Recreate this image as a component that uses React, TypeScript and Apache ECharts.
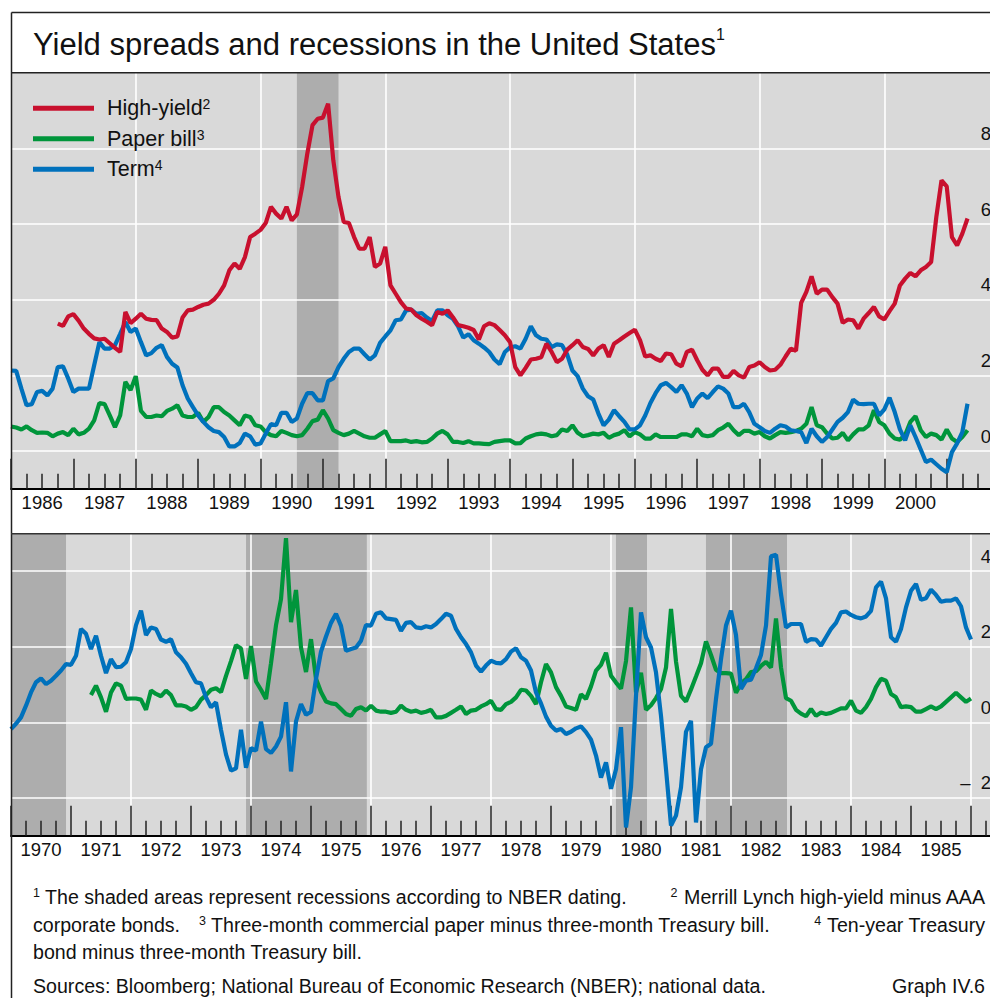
import React, { useEffect, useRef } from "react";
import * as echarts from "echarts";

// ---------- DATA ----------
// Upper panel: monthly, from January 1986
const topStart = 1986;
const topYears = ["1986","1987","1988","1989","1990","1991","1992","1993","1994","1995","1996","1997","1998","1999","2000","2001"];
const termTop = [
  2.13,2.12,1.65,1.21,1.24,1.56,1.59,1.47,1.65,2.22,
  2.24,1.92,1.56,1.65,1.65,1.65,2.27,2.88,2.71,2.71,
  2.8,3.1,3.41,3.15,3.24,2.88,2.53,2.59,2.73,2.8,
  2.49,2.31,2.21,1.74,1.39,1.16,0.94,0.77,0.63,0.53,
  0.5,0.37,0.12,0.12,0.21,0.46,0.39,0.17,0.2,0.46,
  0.71,0.68,1.01,1.01,0.77,0.86,1.25,1.53,1.53,1.34,
  1.34,1.85,1.92,2.22,2.44,2.62,2.71,2.71,2.56,2.42,
  2.53,2.86,3.03,3.19,3.46,3.48,3.72,3.74,3.63,3.65,
  3.53,3.44,3.72,3.72,3.59,3.5,3.3,3.0,3.09,2.93,
  2.84,2.74,2.62,2.42,2.3,2.62,2.74,2.77,2.71,2.97,
  3.3,3.06,2.97,2.95,2.75,2.82,2.8,2.55,2.13,1.98,
  1.65,1.45,1.36,0.99,0.68,0.83,1.08,0.92,0.77,0.57,
  0.57,0.68,0.94,1.27,1.53,1.74,1.8,1.69,1.56,1.74,
  1.52,1.16,1.39,1.52,1.4,1.56,1.71,1.65,1.52,1.16,
  1.16,1.25,1.03,0.72,0.63,0.53,0.48,0.59,0.68,0.65,
  0.55,0.53,0.5,0.21,0.59,0.39,0.24,0.37,0.57,0.77,
  0.88,1.03,1.36,1.25,1.24,1.25,1.25,0.94,1.1,1.41,
  1.03,0.57,0.28,0.68,0.37,0.04,-0.29,-0.23,-0.35,-0.47,
  -0.56,-0.03,0.2,0.5,1.25
];
const paperTop = [
  0.65,0.62,0.57,0.65,0.55,0.48,0.49,0.48,0.39,0.46,
  0.5,0.42,0.59,0.44,0.48,0.59,0.81,1.27,1.24,0.94,
  0.63,0.94,1.83,1.61,1.98,1.06,0.9,0.9,0.94,0.92,
  1.06,1.12,1.21,0.94,0.9,0.9,1.01,0.77,0.9,1.16,
  1.16,1.03,0.94,0.81,0.68,0.94,0.9,0.68,0.65,0.5,
  0.42,0.39,0.53,0.48,0.42,0.39,0.42,0.59,0.79,0.83,
  1.08,0.86,0.55,0.48,0.42,0.46,0.53,0.46,0.39,0.35,
  0.35,0.44,0.53,0.26,0.26,0.26,0.28,0.24,0.26,0.23,
  0.24,0.33,0.46,0.53,0.44,0.24,0.24,0.21,0.26,0.2,
  0.2,0.19,0.18,0.24,0.26,0.28,0.28,0.2,0.21,0.33,
  0.39,0.44,0.46,0.44,0.39,0.42,0.57,0.53,0.68,0.48,
  0.39,0.42,0.46,0.44,0.48,0.35,0.42,0.46,0.55,0.39,
  0.5,0.44,0.33,0.33,0.44,0.37,0.37,0.37,0.37,0.44,
  0.44,0.39,0.59,0.42,0.39,0.42,0.55,0.62,0.72,0.55,
  0.42,0.53,0.53,0.46,0.5,0.39,0.33,0.42,0.5,0.48,
  0.5,0.53,0.59,0.72,1.16,0.68,0.63,0.46,0.33,0.35,
  0.48,0.28,0.44,0.57,0.57,0.68,1.08,0.77,0.68,0.46,
  0.33,0.3,0.42,0.77,0.92,0.55,0.37,0.46,0.42,0.3,
  0.57,0.33,0.24,0.37,0.55
];
// High-yield series begins October 1986
const highYieldStart = 1986 + 9 / 12;
const highYield = [
  3.37,3.31,3.56,3.62,3.45,3.24,3.1,2.98,2.95,2.97,2.85,
  2.73,2.62,3.68,3.38,3.5,3.63,3.5,3.47,3.46,3.24,
  3.15,3.0,3.03,3.53,3.72,3.74,3.81,3.87,3.9,4.0,
  4.16,4.38,4.78,4.96,4.82,5.13,5.66,5.75,5.85,6.03,
  6.46,6.28,6.15,6.46,6.1,6.26,6.98,7.87,8.62,8.79,
  8.82,9.19,7.69,6.72,6.06,6.03,5.66,5.35,5.35,5.66,
  4.87,4.96,5.4,4.38,4.16,3.94,3.77,3.74,3.59,3.5,
  3.42,3.33,3.68,3.63,3.72,3.54,3.33,3.3,3.26,3.2,
  2.95,3.3,3.38,3.33,3.2,3.06,2.88,2.22,2.0,2.2,
  2.42,2.44,2.48,2.84,2.62,2.35,2.44,2.68,2.8,2.93,
  2.75,2.7,2.53,2.71,2.8,2.49,2.84,2.93,3.03,3.12,
  3.21,2.93,2.5,2.53,2.44,2.38,2.58,2.56,2.31,2.24,
  2.62,2.68,2.4,2.15,2.0,2.18,2.18,1.96,1.96,2.12,
  2.0,1.94,2.22,2.26,2.35,2.22,2.13,2.15,2.28,2.5,
  2.71,2.65,3.92,4.21,4.62,4.16,4.27,4.27,4.07,3.9,
  3.39,3.48,3.46,3.24,3.5,3.65,3.81,3.56,3.48,3.7,
  3.9,4.38,4.56,4.71,4.62,4.78,4.87,5.0,6.19,7.16,
  7.0,5.66,5.44,5.75,6.15
];
const topRecessions = [[1990.583, 1991.25]];

// Lower panel: monthly, from January 1970
const bottomStart = 1970;
const bottomYears = ["1970","1971","1972","1973","1974","1975","1976","1977","1978","1979","1980","1981","1982","1983","1984","1985","1986"];
const termBottom = [
  -0.18,-0.04,0.13,0.44,0.79,1.06,1.16,1.01,1.1,1.23,
  1.37,1.54,1.52,1.76,2.47,2.34,1.94,2.29,1.76,1.3,
  1.67,1.46,1.47,1.59,1.94,2.57,2.95,2.31,2.51,2.47,
  2.19,2.13,2.2,1.85,1.72,1.55,1.3,1.06,1.03,0.66,
  0.4,0.53,-0.2,-0.85,-1.28,-1.22,-0.2,-1.2,-0.68,-0.75,
  0.02,-0.71,-0.81,-0.64,-0.38,0.53,-1.3,0.02,0.48,0.2,
  0.28,1.15,1.87,2.27,2.63,2.87,2.55,1.89,1.94,1.98,
  2.16,2.57,2.56,2.87,2.91,2.75,2.73,2.71,2.42,2.63,
  2.65,2.51,2.49,2.54,2.51,2.6,2.73,2.87,2.82,2.47,
  2.25,2.07,1.85,1.5,1.34,1.5,1.63,1.57,1.56,1.67,
  1.87,1.96,1.72,1.63,1.37,0.79,0.5,0.15,-0.09,-0.22,
  -0.18,-0.31,-0.25,-0.16,-0.11,-0.26,-0.46,-0.88,-1.46,-1.06,
  -1.76,-1.24,-0.13,-2.78,-1.72,0.7,2.91,2.25,1.98,1.32,
  0.17,-1.24,-2.73,-2.47,-1.72,-0.25,0.04,-2.65,-1.24,-0.66,
  -0.57,0.62,1.67,2.56,2.95,2.31,0.88,1.1,1.13,1.43,
  1.78,2.56,4.39,4.43,3.39,2.51,2.6,2.6,2.6,2.13,
  2.2,2.19,2.03,2.25,2.47,2.63,2.91,2.93,2.84,2.78,
  2.75,2.8,2.95,3.57,3.72,3.28,2.25,2.13,2.47,3.04,
  3.48,3.66,3.24,3.28,3.51,3.37,3.19,3.22,3.22,3.28,
  3.07,2.51,2.19
];
// Paper bill series begins May 1971
const paperBottomStart = 1970 + 16 / 12;
const paperBottom = [
  0.72,0.97,0.66,0.28,0.79,1.03,0.97,0.62,0.63,0.63,
  0.6,0.33,0.84,0.75,0.69,0.84,0.72,0.45,0.45,0.42,
  0.33,0.4,0.6,0.72,0.86,0.9,0.8,1.23,1.62,2.04,
  1.95,1.15,2.02,1.08,0.86,0.62,1.56,2.57,3.26,4.87,
  2.65,3.5,1.98,1.33,2.2,1.15,0.8,0.55,0.5,0.48,
  0.35,0.22,0.17,0.35,0.4,0.31,0.44,0.31,0.28,0.28,
  0.25,0.28,0.44,0.33,0.28,0.31,0.25,0.28,0.33,0.13,
  0.13,0.17,0.25,0.33,0.42,0.22,0.31,0.33,0.42,0.48,
  0.57,0.35,0.33,0.48,0.54,0.66,0.86,0.84,0.7,0.48,
  1.06,1.54,1.32,0.93,0.7,0.42,0.38,0.33,0.74,0.62,
  0.95,1.37,1.52,1.84,1.23,1.05,0.89,1.62,3.04,0.79,
  1.31,0.33,0.45,0.64,0.88,1.45,3.0,1.61,0.7,0.55,
  0.87,1.21,1.56,2.14,1.78,1.39,1.3,1.3,1.29,0.78,
  1.03,1.14,1.33,1.35,1.49,1.6,1.45,2.75,1.45,0.64,
  0.57,0.33,0.23,0.16,0.35,0.17,0.26,0.22,0.25,0.31,
  0.37,0.37,0.57,0.31,0.25,0.4,0.62,0.93,1.15,1.1,
  0.75,0.66,0.4,0.42,0.4,0.28,0.28,0.35,0.42,0.35,
  0.42,0.54,0.66,0.78,0.66,0.54,0.63
];
const bottomRecessions = [[1969.917, 1970.917], [1973.917, 1975.93], [1980.083, 1980.6], [1981.583, 1982.933]];

const seriesNames = ["High-yield", "Paper bill", "Term"];
const seriesSup: Record<string, string> = { "High-yield": "2", "Paper bill": "3", Term: "4" };
const COLORS = { red: "#c8102e", green: "#00953b", blue: "#0071bc" };

// ---------- HELPERS ----------
const toPairs = (start: number, vals: number[]) => vals.map((v, i) => [start + i / 12, v]);

const FONT = "'Liberation Sans', Arial, Helvetica, sans-serif";

const PLOT_BG = "#d9d9d9";
const SHADE = "#adadad";

function shadeItem(params: any, api: any) {
  const cs = params.coordSys;
  const s = api.coord([api.value(0), 0]);
  const e = api.coord([api.value(1), 0]);
  const x0 = Math.max(s[0], cs.x);
  const x1 = Math.min(e[0], cs.x + cs.width);
  return {
    type: "rect",
    shape: { x: x0, y: cs.y, width: Math.max(0, x1 - x0), height: cs.height },
    style: { fill: SHADE },
  };
}

function dataAxis(gridIndex: number, min: number, max: number) {
  return {
    type: "value", gridIndex, min, max, interval: 1, position: "bottom", z: 3,
    axisLine: { show: true, onZero: false, lineStyle: { color: "#000", width: 2 } },
    axisTick: { show: true, inside: true, length: 30, lineStyle: { color: "#222", width: 1.5 } },
    minorTick: { show: true, splitNumber: 4, length: 15, lineStyle: { color: "#222", width: 1.5 } },
    axisLabel: { show: false }, splitLine: { show: false },
  };
}
function splitAxis(gridIndex: number, min: number, max: number) {
  return {
    type: "value", gridIndex, min, max, interval: 2, position: "bottom", z: 2,
    axisLine: { show: false, onZero: false }, axisTick: { show: false }, axisLabel: { show: false },
    splitLine: { show: true, lineStyle: { color: "#ffffff", width: 1.6 } },
  };
}
function labelAxis(gridIndex: number, years: string[]) {
  return {
    type: "category", gridIndex, data: years, boundaryGap: true, position: "bottom",
    axisLine: { show: false, onZero: false }, axisTick: { show: false }, splitLine: { show: false },
    axisLabel: {
      interval: 0, margin: 4, fontSize: 18.5, lineHeight: 20, color: "#111", fontFamily: FONT,
      formatter: (v: string, i: number) => (i === years.length - 1 ? "" : v),
    },
  };
}

const noteRich = {
  n: { fontSize: 19.6, lineHeight: 22, fontFamily: FONT, fill: "#111" },
  s: { fontSize: 12.5, lineHeight: 13, fontFamily: FONT, fill: "#111", verticalAlign: "top" },
};

const footnotes = [
  { x: 33, y: 897, align: "left", text: "{s|1}{n| The shaded areas represent recessions according to NBER dating.}" },
  { x: 985, y: 897, align: "right", text: "{s|2}{n| Merrill Lynch high-yield minus AAA}" },
  { x: 33, y: 925, align: "left", text: "{n|corporate bonds.}" },
  { x: 199, y: 925, align: "left", text: "{s|3}{n| Three-month commercial paper minus three-month Treasury bill.}" },
  { x: 985, y: 925, align: "right", text: "{s|4}{n| Ten-year Treasury}" },
  { x: 33, y: 952, align: "left", text: "{n|bond minus three-month Treasury bill.}" },
  { x: 33, y: 986, align: "left", text: "{n|Sources: Bloomberg; National Bureau of Economic Research (NBER); national data.}" },
  { x: 985, y: 986, align: "right", text: "{n|Graph IV.6}" },
];

export default function App() {
  const ref = useRef<HTMLDivElement>(null);
  useEffect(() => {
    if (!ref.current) return;
    const chart = echarts.init(ref.current, undefined, { renderer: "svg" });
    const lineBase = (name: string, color: string, data: number[][], xi: number, yi: number) => ({
      name, type: "line", xAxisIndex: xi, yAxisIndex: yi, data, showSymbol: false, symbol: "none",
      z: 4, lineStyle: { color, width: 4.2 }, itemStyle: { color }, silent: true,
    });
    const option: any = {
      animation: false,
      backgroundColor: "#ffffff",
      textStyle: { fontFamily: FONT },
      grid: [
        { left: 11, top: 73, width: 998.1, height: 415.8, show: true, backgroundColor: PLOT_BG, borderWidth: 0 },
        { left: 11, top: 533.3, width: 1020, height: 302.4, show: true, backgroundColor: PLOT_BG, borderWidth: 0 },
      ],
      xAxis: [
        dataAxis(0, 1986, 2002), splitAxis(0, 1986, 2002), labelAxis(0, topYears),
        dataAxis(1, 1970, 1987), splitAxis(1, 1970, 1987), labelAxis(1, bottomYears),
      ],
      yAxis: [
        {
          type: "value", gridIndex: 0, min: -1, max: 10, splitNumber: 5, position: "right", z: 2,
          axisLine: { show: false }, axisTick: { show: false },
          splitLine: { show: true, showMinLine: false, showMaxLine: false, lineStyle: { color: "#ffffff", width: 1.6 } },
          axisLabel: {
            inside: true, margin: 18, fontSize: 18.5, color: "#111", fontFamily: FONT, verticalAlign: "bottom", lineHeight: 30,
            formatter: (v: number) => (v >= 0 && v <= 8 && v % 2 === 0 ? String(v) : ""),
          },
        },
        {
          type: "value", gridIndex: 1, min: -3, max: 5, splitNumber: 4, position: "right", z: 2,
          axisLine: { show: false }, axisTick: { show: false },
          splitLine: { show: true, showMinLine: false, showMaxLine: false, lineStyle: { color: "#ffffff", width: 1.6 } },
          axisLabel: {
            inside: true, margin: 40, fontSize: 18.5, color: "#111", fontFamily: FONT, verticalAlign: "bottom", lineHeight: 30,
            formatter: (v: number) => (v >= -2 && v <= 4 && v % 2 === 0 ? (v < 0 ? "\u2013  " + Math.abs(v) : String(v)) : ""),
          },
        },
      ],
      legend: {
        data: seriesNames, orient: "vertical", left: 33, top: 97.3, padding: 0, itemGap: 8.5,
        itemWidth: 61, itemHeight: 5, icon: "rect", selectedMode: false,
        formatter: (name: string) => `{n|${name}}{s|${seriesSup[name]}}`,
        textStyle: {
          color: "#111",
          rich: {
            n: { fontSize: 21.5, lineHeight: 22, fontFamily: FONT, color: "#111", padding: [0, 0, 0, 8] },
            s: { fontSize: 14, lineHeight: 15, fontFamily: FONT, color: "#111", verticalAlign: "top" },
          },
        },
      },
      series: [
        { type: "custom", xAxisIndex: 0, yAxisIndex: 0, data: topRecessions, renderItem: shadeItem, z: 1, silent: true, encode: { x: [0, 1] } },
        lineBase("Paper bill", COLORS.green, toPairs(topStart, paperTop), 0, 0),
        lineBase("Term", COLORS.blue, toPairs(topStart, termTop), 0, 0),
        lineBase("High-yield", COLORS.red, toPairs(highYieldStart, highYield), 0, 0),
        { type: "custom", xAxisIndex: 3, yAxisIndex: 1, data: bottomRecessions, renderItem: shadeItem, z: 1, silent: true, encode: { x: [0, 1] } },
        lineBase("Paper bill", COLORS.green, toPairs(paperBottomStart, paperBottom), 3, 1),
        lineBase("Term", COLORS.blue, toPairs(bottomStart, termBottom), 3, 1),
      ],
      graphic: [
        { type: "line", z: 100, shape: { x1: 11.5, y1: 12.5, x2: 1040, y2: 12.5 }, style: { stroke: "#222", lineWidth: 1.5 } },
        { type: "line", z: 100, shape: { x1: 11.5, y1: 12.5, x2: 11.5, y2: 998 }, style: { stroke: "#222", lineWidth: 1.5 } },
        { type: "line", z: 100, shape: { x1: 11, y1: 72.8, x2: 1040, y2: 72.8 }, style: { stroke: "#222", lineWidth: 1.6 } },
        { type: "line", z: 100, shape: { x1: 11, y1: 533.8, x2: 1040, y2: 533.8 }, style: { stroke: "#333", lineWidth: 1.6 } },
        {
          type: "text", z: 100, x: 33, y: 44,
          style: {
            text: "{t|Yield spreads and recessions in the United States}{s|1}",
            verticalAlign: "middle",
            rich: {
              t: { fontSize: 31, lineHeight: 36, fontFamily: FONT, fill: "#111" },
              s: { fontSize: 16, lineHeight: 18, fontFamily: FONT, fill: "#111", verticalAlign: "top" },
            },
          },
        },
        ...footnotes.map((f) => ({
          type: "text", z: 100, x: f.x, y: f.y,
          style: { text: f.text, align: f.align, verticalAlign: "middle", rich: noteRich },
        })),
      ],
    };
    chart.setOption(option);
    return () => chart.dispose();
  }, []);
  return (
    <div style={{ position: "fixed", left: 0, top: 0, width: 990, height: 998, overflow: "hidden", background: "#fff" }}>
      <div ref={ref} style={{ width: 1040, height: 998 }} />
    </div>
  );
}
